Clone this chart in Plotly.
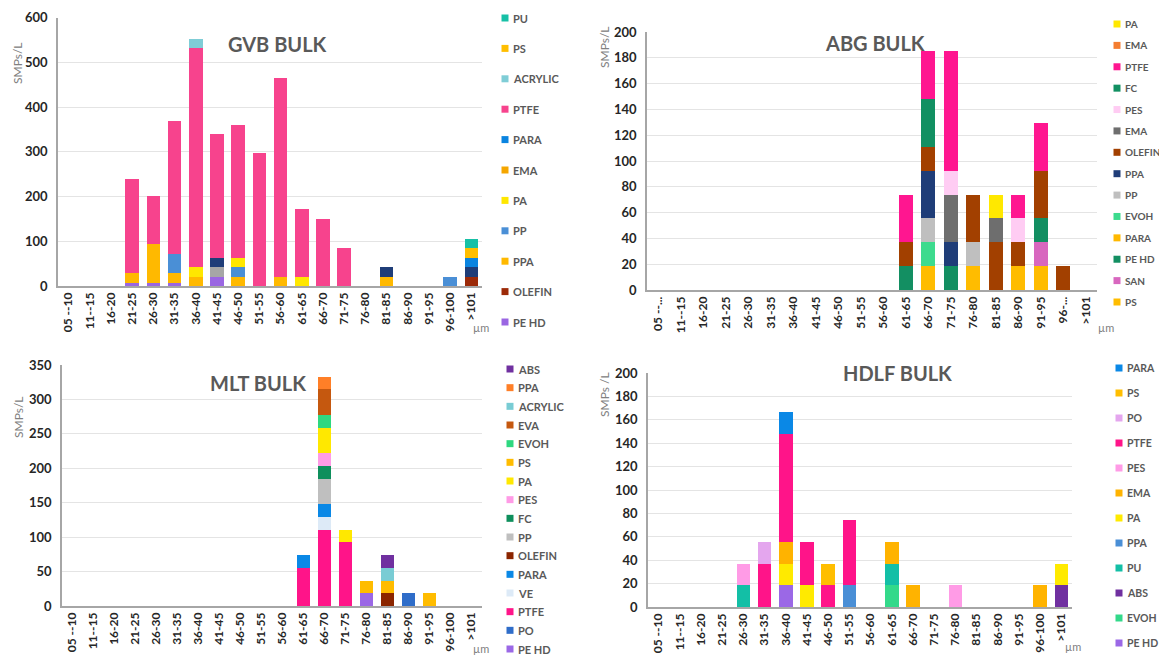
import plotly.graph_objects as go

# ---------------------------------------------------------------- data
SIZE_CLASSES = ["05 --10", "11--15", "16-20", "21-25", "26-30", "31-35", "36-40",
                "41-45", "46-50", "51-55", "56-60", "61-65", "66-70", "71-75",
                "76-80", "81-85", "86-90", "91-95", "96-100", ">101"]
ABG_CLASSES = ["05 --...", "11--15", "16-20", "21-25", "26-30", "31-35", "36-40",
               "41-45", "46-50", "51-55", "56-60", "61-65", "66-70", "71-75",
               "76-80", "81-85", "86-90", "91-95", "96-...", ">101"]

# GVB bulk, SMPs/L per size class (series listed bottom -> top of the stack)
GVB_SERIES = ["PE HD", "OLEFIN", "PPA", "PP", "PP*", "PPA*", "PA", "EMA",
              "PARA", "PTFE", "ACRYLIC", "PS", "PU"]
GVB_PE_HD   = [0, 0, 0, 7, 7, 7, 0, 21, 0, 0, 0, 0, 0, 0, 0, 0, 0, 0, 0, 0]
GVB_OLEFIN  = [0, 0, 0, 0, 0, 0, 0, 0, 0, 0, 0, 0, 0, 0, 0, 0, 0, 0, 0, 21]
GVB_PPA     = [0, 0, 0, 21, 86, 21, 21, 0, 21, 0, 21, 0, 0, 0, 0, 21, 0, 0, 0, 0]
GVB_PP      = [0, 0, 0, 0, 0, 43, 0, 0, 21, 0, 0, 0, 0, 0, 0, 0, 0, 0, 21, 0]
GVB_PP_X    = [0, 0, 0, 0, 0, 0, 0, 21, 0, 0, 0, 0, 0, 0, 0, 0, 0, 0, 0, 0]
GVB_PPA_X   = [0, 0, 0, 0, 0, 0, 0, 21, 0, 0, 0, 0, 0, 0, 0, 21, 0, 0, 0, 21]
GVB_PA      = [0, 0, 0, 0, 0, 0, 21, 0, 21, 0, 0, 21, 0, 0, 0, 0, 0, 0, 0, 0]
GVB_EMA     = [0] * 20
GVB_PARA    = [0, 0, 0, 0, 0, 0, 0, 0, 0, 0, 0, 0, 0, 0, 0, 0, 0, 0, 0, 21]
GVB_PTFE    = [0, 0, 0, 212, 108, 298, 490, 276, 297, 297, 445, 151, 150, 86, 0, 0, 0, 0, 0, 0]
GVB_ACRYLIC = [0, 0, 0, 0, 0, 0, 20, 0, 0, 0, 0, 0, 0, 0, 0, 0, 0, 0, 0, 0]
GVB_PS      = [0, 0, 0, 0, 0, 0, 0, 0, 0, 0, 0, 0, 0, 0, 0, 0, 0, 0, 0, 21]
GVB_PU      = [0, 0, 0, 0, 0, 0, 0, 0, 0, 0, 0, 0, 0, 0, 0, 0, 0, 0, 0, 21]
GVB_VALUES = [GVB_PE_HD, GVB_OLEFIN, GVB_PPA, GVB_PP, GVB_PP_X, GVB_PPA_X, GVB_PA,
              GVB_EMA, GVB_PARA, GVB_PTFE, GVB_ACRYLIC, GVB_PS, GVB_PU]

# ABG bulk
ABG_SERIES = ["PS", "SAN", "PE HD", "PARA", "EVOH", "PP", "PPA", "OLEFIN", "EMA",
              "PES", "FC", "PTFE", "EMA", "PA"]
ABG_PS      = [0] * 12 + [18.5, 0, 18.5, 0, 18.5, 18.5, 0, 0]
ABG_SAN     = [0] * 17 + [18.5, 0, 0]
ABG_PE_HD   = [0] * 11 + [18.5, 0, 18.5, 0, 0, 0, 18.5, 0, 0]
ABG_PARA    = [0] * 20
ABG_EVOH    = [0] * 12 + [18.5, 0, 0, 0, 0, 0, 0, 0]
ABG_PP      = [0] * 12 + [18.5, 0, 18.5, 0, 0, 0, 0, 0]
ABG_PPA     = [0] * 12 + [37, 18.5, 0, 0, 0, 0, 0, 0]
ABG_OLEFIN  = [0] * 11 + [18.5, 18.5, 0, 37, 37, 18.5, 37, 18.5, 0]
ABG_EMA_G   = [0] * 13 + [37, 0, 18.5, 0, 0, 0, 0]
ABG_PES     = [0] * 13 + [18.5, 0, 0, 18.5, 0, 0, 0]
ABG_FC      = [0] * 12 + [37, 0, 0, 0, 0, 0, 0, 0]
ABG_PTFE    = [0] * 11 + [37, 37, 92.5, 0, 0, 18.5, 37, 0, 0]
ABG_EMA_O   = [0] * 20
ABG_PA      = [0] * 15 + [18.5, 0, 0, 0, 0]
ABG_VALUES = [ABG_PS, ABG_SAN, ABG_PE_HD, ABG_PARA, ABG_EVOH, ABG_PP, ABG_PPA,
              ABG_OLEFIN, ABG_EMA_G, ABG_PES, ABG_FC, ABG_PTFE, ABG_EMA_O, ABG_PA]

# MLT bulk
MLT_SERIES = ["PE HD", "PO", "PTFE", "VE", "PARA", "OLEFIN", "PP", "FC", "PES",
              "PA", "PS", "EVOH", "EVA", "ACRYLIC", "PPA", "ABS"]
MLT_PE_HD   = [0] * 14 + [18.5, 0, 0, 0, 0, 0]
MLT_PO      = [0] * 16 + [18.5, 0, 0, 0]
MLT_PTFE    = [0] * 11 + [55.5, 111, 92.5, 0, 0, 0, 0, 0, 0]
MLT_VE      = [0] * 12 + [18.5, 0, 0, 0, 0, 0, 0, 0]
MLT_PARA    = [0] * 11 + [18.5, 18.5, 0, 0, 0, 0, 0, 0, 0]
MLT_OLEFIN  = [0] * 15 + [18.5, 0, 0, 0, 0]
MLT_PP      = [0] * 12 + [37, 0, 0, 0, 0, 0, 0, 0]
MLT_FC      = [0] * 12 + [18.5, 0, 0, 0, 0, 0, 0, 0]
MLT_PES     = [0] * 12 + [18.5, 0, 0, 0, 0, 0, 0, 0]
MLT_PA      = [0] * 12 + [37, 18.5, 0, 0, 0, 0, 0, 0]
MLT_PS      = [0] * 14 + [18.5, 18.5, 0, 18.5, 0, 0]
MLT_EVOH    = [0] * 12 + [18.5, 0, 0, 0, 0, 0, 0, 0]
MLT_EVA     = [0] * 12 + [37, 0, 0, 0, 0, 0, 0, 0]
MLT_ACRYLIC = [0] * 15 + [18.5, 0, 0, 0, 0]
MLT_PPA     = [0] * 12 + [18.5, 0, 0, 0, 0, 0, 0, 0]
MLT_ABS     = [0] * 15 + [18.5, 0, 0, 0, 0]
MLT_VALUES = [MLT_PE_HD, MLT_PO, MLT_PTFE, MLT_VE, MLT_PARA, MLT_OLEFIN, MLT_PP,
              MLT_FC, MLT_PES, MLT_PA, MLT_PS, MLT_EVOH, MLT_EVA, MLT_ACRYLIC,
              MLT_PPA, MLT_ABS]

# HDLF bulk
HDLF_SERIES = ["PE HD", "EVOH", "ABS", "PU", "PPA", "PA", "EMA", "PES", "PTFE",
               "PO", "PS", "PARA"]
HDLF_PE_HD = [0] * 6 + [18.5] + [0] * 13
HDLF_EVOH  = [0] * 11 + [18.5] + [0] * 8
HDLF_ABS   = [0] * 19 + [18.5]
HDLF_PU    = [0, 0, 0, 0, 18.5, 0, 0, 0, 0, 0, 0, 18.5, 0, 0, 0, 0, 0, 0, 0, 0]
HDLF_PPA   = [0] * 9 + [18.5] + [0] * 10
HDLF_PA    = [0, 0, 0, 0, 0, 0, 18.5, 18.5, 0, 0, 0, 0, 0, 0, 0, 0, 0, 0, 0, 18.5]
HDLF_EMA   = [0, 0, 0, 0, 0, 0, 18.5, 0, 0, 0, 0, 18.5, 18.5, 0, 0, 0, 0, 0, 18.5, 0]
HDLF_PES   = [0, 0, 0, 0, 18.5, 0, 0, 0, 0, 0, 0, 0, 0, 0, 18.5, 0, 0, 0, 0, 0]
HDLF_PTFE  = [0, 0, 0, 0, 0, 37, 92.5, 37, 18.5, 55.5, 0, 0, 0, 0, 0, 0, 0, 0, 0, 0]
HDLF_PO    = [0] * 5 + [18.5] + [0] * 14
HDLF_PS    = [0] * 8 + [18.5] + [0] * 11
HDLF_PARA  = [0] * 6 + [18.5] + [0] * 13
HDLF_VALUES = [HDLF_PE_HD, HDLF_EVOH, HDLF_ABS, HDLF_PU, HDLF_PPA, HDLF_PA,
               HDLF_EMA, HDLF_PES, HDLF_PTFE, HDLF_PO, HDLF_PS, HDLF_PARA]

# ---------------------------------------------------------------- styles
GVB_COLORS = ["#9A66E2", "#9C2A08", "#FFB900", "#4A8FD6", "#A6A6A6", "#1F3D78",
              "#FFE700", "#F5A600", "#0A84E0", "#F7438D", "#7FCDD6", "#FFBE00", "#17C0A6"]
GVB_HIDDEN = {"PP*", "PPA*"}
ABG_COLORS = ["#FFBC00", "#D867BF", "#138F62", "#FFB800", "#3DDB8E", "#BFBFBF",
              "#1F3D78", "#A24000", "#6E6E6E", "#FFCCF3", "#129062", "#FF1690",
              "#F47D30", "#FFE800"]
MLT_COLORS = ["#9B68E6", "#2F6DC9", "#FF1489", "#DDEAF7", "#0A88E6", "#8B2500",
              "#BFBFBF", "#0E8F5C", "#FF9BE6", "#FFE800", "#FFBC00", "#2ED880",
              "#C5580F", "#79CCD4", "#FF7F27", "#7030A0"]
HDLF_COLORS = ["#9B68E6", "#33D98A", "#7030A0", "#13BFA6", "#4A8FD6", "#FFEA00",
               "#FFB300", "#FF9BE6", "#FF1489", "#E4A6EE", "#FFBE00", "#0A88E6"]

W, H = 1159, 655
FONT = "Lato, 'Open Sans', sans-serif"
GREY_TEXT = "#595959"
SWATCH = 7


def fx(px):
    return px / W


def fy(py):
    return 1 - py / H


fig = go.Figure()

panels = [
    dict(s="", cats=SIZE_CLASSES, series=GVB_SERIES, values=GVB_VALUES, colors=GVB_COLORS,
         xpx=(58, 482), ypx=(17.7, 286), yr=600, dt=100,
         key=(505, 18, 322), keyfont=11, title="GVB BULK", tpos=(277, 44),
         ytitle="SMPs/L", ytpos=(17, 63), um=(481, 327)),
    dict(s="2", cats=ABG_CLASSES, series=ABG_SERIES, values=ABG_VALUES, colors=ABG_COLORS,
         xpx=(647, 1097), ypx=(32, 290), yr=200, dt=20,
         key=(1117, 24, 302), keyfont=10, title="ABG BULK", tpos=(875, 43),
         ytitle="SMPs/L", ytpos=(604, 47), um=(1106, 327)),
    dict(s="3", cats=SIZE_CLASSES, series=MLT_SERIES, values=MLT_VALUES, colors=MLT_COLORS,
         xpx=(62, 482), ypx=(365, 606), yr=350, dt=50,
         key=(510, 369, 649), keyfont=11, title="MLT BULK", tpos=(258, 383),
         ytitle="SMPs/L", ytpos=(18, 417), um=(481, 648)),
    dict(s="4", cats=SIZE_CLASSES, series=HDLF_SERIES, values=HDLF_VALUES, colors=HDLF_COLORS,
         xpx=(648, 1072), ypx=(373, 607), yr=200, dt=20,
         key=(1119, 368, 643), keyfont=10.5, title="HDLF BULK", tpos=(897, 373),
         ytitle="SMPs /L", ytpos=(604, 395), um=(1073, 646)),
]

layout = dict(
    width=W, height=H, margin=dict(l=0, r=0, t=0, b=0, autoexpand=False),
    paper_bgcolor="white", plot_bgcolor="white",
    barmode="stack", bargap=0.36, showlegend=False,
    font=dict(family=FONT, color="#262626"),
    annotations=[], shapes=[],
)

for p in panels:
    xa, ya = "x" + p["s"], "y" + p["s"]
    for name, vals, col in zip(p["series"], p["values"], p["colors"]):
        fig.add_trace(go.Bar(
            x=p["cats"], y=vals, name=name, marker=dict(color=col, line=dict(width=0)),
            xaxis=xa, yaxis=ya,
        ))
    layout["xaxis" + p["s"]] = dict(
        domain=[fx(p["xpx"][0]), fx(p["xpx"][1])], anchor=ya,
        type="category", categoryorder="array", categoryarray=p["cats"],
        tickangle=-90, tickfont=dict(size=12, family=FONT, color="#262626", weight="bold"),
        showline=True, linecolor="#A6A6A6", linewidth=1.5, ticks="", showgrid=False,
        zeroline=False,
    )
    layout["yaxis" + p["s"]] = dict(
        domain=[fy(p["ypx"][1]), fy(p["ypx"][0])], anchor=xa,
        range=[0, p["yr"]], dtick=p["dt"], tick0=0,
        tickfont=dict(size=13, family=FONT, color="#262626", weight="bold"),
        showline=True, linecolor="#A6A6A6", linewidth=1.5, ticks="",
        showgrid=True, gridcolor="#E4E4E4", gridwidth=1, zeroline=False,
        ticklabelstandoff=6,
    )

    # key: entries listed top -> bottom in reverse stacking order
    entries = [(n, c) for n, c in zip(p["series"], p["colors"]) if n not in GVB_HIDDEN][::-1]
    kx, ky0, ky1 = p["key"]
    step = (ky1 - ky0) / (len(entries) - 1)
    for j, (name, col) in enumerate(entries):
        cy = ky0 + j * step
        layout["shapes"].append(dict(
            type="rect", xref="paper", yref="paper", line=dict(width=0), fillcolor=col,
            x0=fx(kx - SWATCH / 2), x1=fx(kx + SWATCH / 2),
            y0=fy(cy + SWATCH / 2), y1=fy(cy - SWATCH / 2)))
        layout["annotations"].append(dict(
            text=name, x=fx(kx + SWATCH / 2 + 2), y=fy(cy), xref="paper", yref="paper",
            showarrow=False, xanchor="left", yanchor="middle",
            font=dict(size=p["keyfont"], family=FONT, color=GREY_TEXT, weight="bold")))

    layout["annotations"] += [
        dict(text=p["title"], x=fx(p["tpos"][0]), y=fy(p["tpos"][1]), xref="paper",
             yref="paper", showarrow=False, xanchor="center", yanchor="middle",
             font=dict(size=20, family=FONT, color=GREY_TEXT, weight="bold")),
        dict(text=p["ytitle"], x=fx(p["ytpos"][0]), y=fy(p["ytpos"][1]), xref="paper",
             yref="paper", showarrow=False, xanchor="center", yanchor="middle",
             textangle=-90, font=dict(size=12, family=FONT, color="#808080")),
        dict(text="µm", x=fx(p["um"][0]), y=fy(p["um"][1]), xref="paper",
             yref="paper", showarrow=False, xanchor="center", yanchor="middle",
             font=dict(size=11, family=FONT, color="#808080")),
    ]

fig.update_layout(**layout)
fig.write_html("out.html")
